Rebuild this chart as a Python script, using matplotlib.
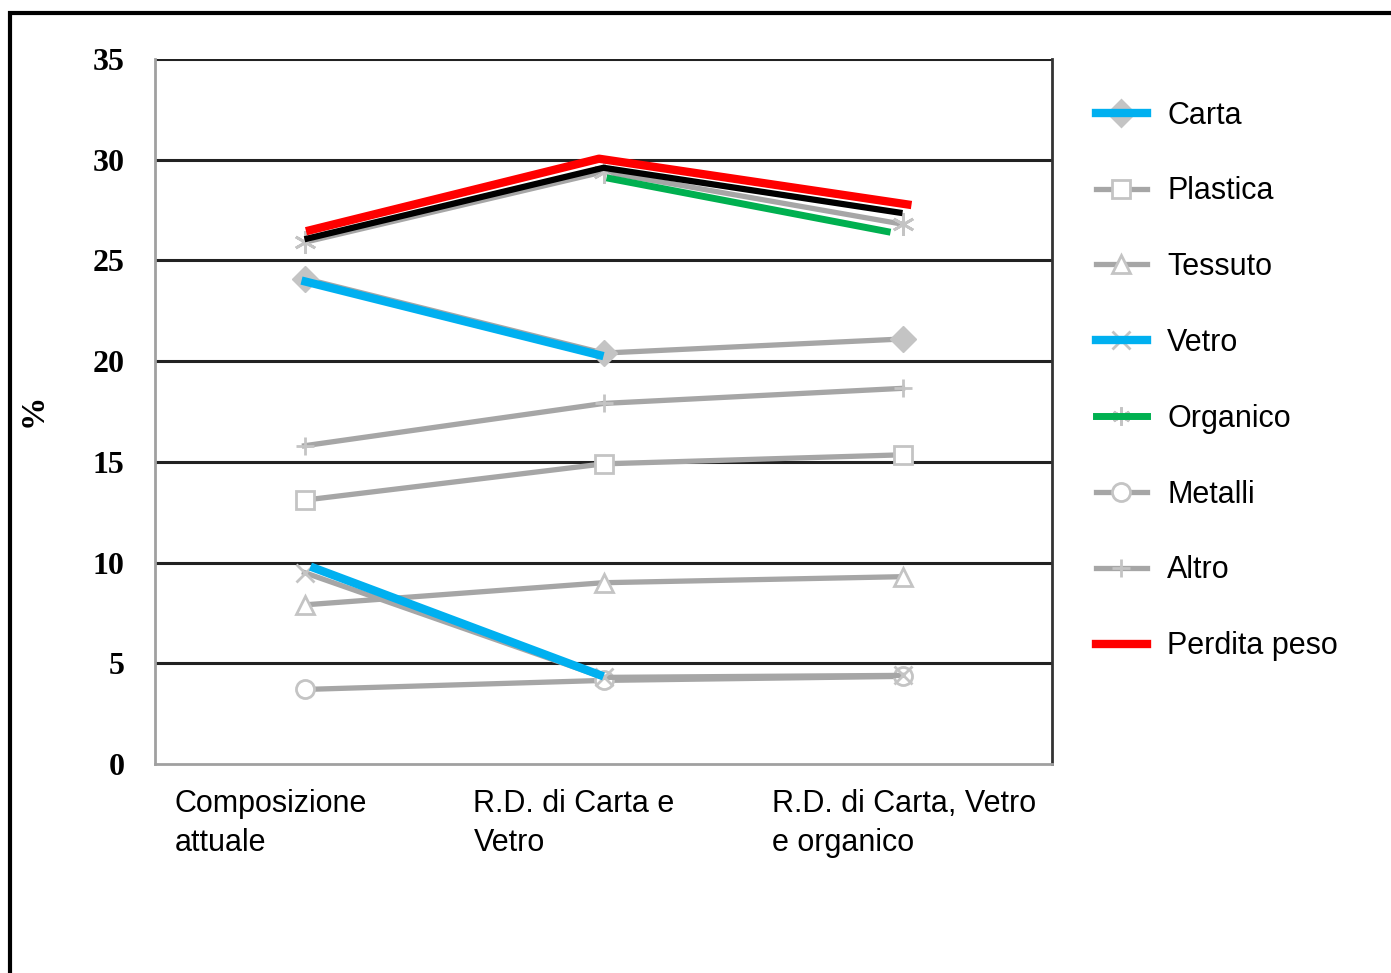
import matplotlib
matplotlib.use('Agg')
import matplotlib.pyplot as plt
from matplotlib.lines import Line2D
from matplotlib.patches import Rectangle
from matplotlib.legend_handler import HandlerTuple

# categories (x axis)
categories = ['Composizione\nattuale', 'R.D. di Carta e\nVetro', 'R.D. di Carta, Vetro\ne organico']

# series values, %
carta = [24.1, 20.4, 21.1]
plastica = [13.1, 14.9, 15.35]
tessuto = [7.9, 9.0, 9.3]
vetro = [9.5, 4.3, 4.4]
organico = [25.9, 29.4, 26.8]
metalli = [3.7, 4.15, 4.35]
altro = [15.8, 17.9, 18.65]
perdita_peso = [26.05, 29.6, 27.35]

# coloured strokes drawn over the gray lines (x in category units)
red_x = [0.005, 0.985, 2.03]
red_y = [26.45, 30.05, 27.75]
green_x = [1.01, 1.96]
green_y = [29.1, 26.4]
blue_carta_x = [-0.01, 1.0]
blue_carta_y = [24.0, 20.25]
blue_vetro_x = [0.02, 1.0]
blue_vetro_y = [9.8, 4.35]

yticks = [0, 5, 10, 15, 20, 25, 30, 35]

GRAY = '#a6a6a6'
MK = '#c4c4c4'
BLUE = '#00b0f0'
GREEN = '#00b050'

fig = plt.figure(figsize=(13.91, 9.73), dpi=100)
ax = fig.add_axes([155/1391, 1-764/973, 897/1391, 705/973])

x = list(range(len(categories)))
lw = 3.8
ms = 13

ax.plot(x, altro, color=GRAY, lw=lw, marker='+', ms=ms, mec=MK, mew=2, zorder=3)
ax.plot(x, plastica, color=GRAY, lw=lw, marker='s', ms=ms, mfc='white', mec=MK, mew=2, zorder=3)
ax.plot(x, tessuto, color=GRAY, lw=lw, marker='^', ms=ms, mfc='white', mec=MK, mew=2, zorder=3)
ax.plot(x, metalli, color=GRAY, lw=lw, marker='o', ms=ms, mfc='white', mec=MK, mew=2, zorder=3)
ax.plot(x, vetro, color=GRAY, lw=lw, marker='x', ms=ms, mec=MK, mew=2, zorder=3)
ax.plot(x, carta, color=GRAY, lw=lw, marker='D', ms=ms, mfc=MK, mec=MK, zorder=3)
ax.plot(x, organico, color=GRAY, lw=lw, marker=(6, 2, 0), ms=ms+3, mec=MK, mew=2, zorder=3)
ax.plot(x, perdita_peso, color='black', lw=4.5, solid_capstyle='butt', zorder=4)

# overlays
ax.plot(red_x, red_y, color='#ff0000', lw=6, solid_capstyle='butt', zorder=5)
ax.plot(green_x, green_y, color=GREEN, lw=5, solid_capstyle='butt', zorder=5)
ax.plot(blue_carta_x, blue_carta_y, color=BLUE, lw=6, solid_capstyle='butt', zorder=5)
ax.plot(blue_vetro_x, blue_vetro_y, color=BLUE, lw=6, solid_capstyle='butt', zorder=5)

ax.set_xlim(-0.5, 2.5)
ax.set_ylim(0, 35)
ax.set_yticks(yticks)
ax.set_yticklabels([str(v) for v in yticks], family='Liberation Serif', weight='bold', fontsize=23)
ax.set_xticks([])
ax.tick_params(axis='y', length=0, pad=22)
for v in yticks[1:]:
    ax.axhline(v, color='#222222', lw=2.2, zorder=1)
ax.spines['top'].set_visible(False)
ax.spines['left'].set_color('#a0a0a0')
ax.spines['bottom'].set_color('#a0a0a0')
ax.spines['left'].set_linewidth(2)
ax.spines['bottom'].set_linewidth(2)
ax.spines['right'].set_color('#333333')
ax.spines['right'].set_linewidth(2)

for i, lab in enumerate(categories):
    ax.text(i - 0.435, -0.036, lab, transform=ax.get_xaxis_transform(), ha='left', va='top',
            family='Liberation Sans', fontsize=22, linespacing=1.38)

fig.text(33/1391, 1-410/973, '%', rotation=90, ha='center', va='center',
         family='Liberation Serif', weight='bold', fontsize=24)

# legend
def g(marker, **kw):
    return Line2D([], [], color=GRAY, lw=lw, marker=marker, ms=ms, mec=MK, mew=2, **kw)

handles = [
    (g('D', mfc=MK), Line2D([], [], color=BLUE, lw=6)),
    g('s', mfc='white'),
    g('^', mfc='white'),
    (g('x'), Line2D([], [], color=BLUE, lw=6)),
    (g((6, 2, 0)), Line2D([], [], color=GREEN, lw=5)),
    g('o', mfc='white'),
    g('+'),
    (Line2D([], [], color='black', lw=5), Line2D([], [], color='#ff0000', lw=6)),
]
labels = ['Carta', 'Plastica', 'Tessuto', 'Vetro', 'Organico', 'Metalli', 'Altro', 'Perdita peso']
fig.legend(handles, labels, loc='upper left', bbox_to_anchor=(1068/1391, 1-73/973),
           frameon=False, prop={'family': 'Liberation Sans', 'size': 22},
           handlelength=1.7, handletextpad=0.65, labelspacing=1.5,
           handler_map={tuple: HandlerTuple(ndivide=1)})

# outer frame
fig.patches.append(Rectangle((10/1391, -0.2), 1.3, 0.2 + 1 - 13/973, transform=fig.transFigure,
                             fill=False, edgecolor='black', lw=3, figure=fig))

fig.savefig('out.png', dpi=100)
